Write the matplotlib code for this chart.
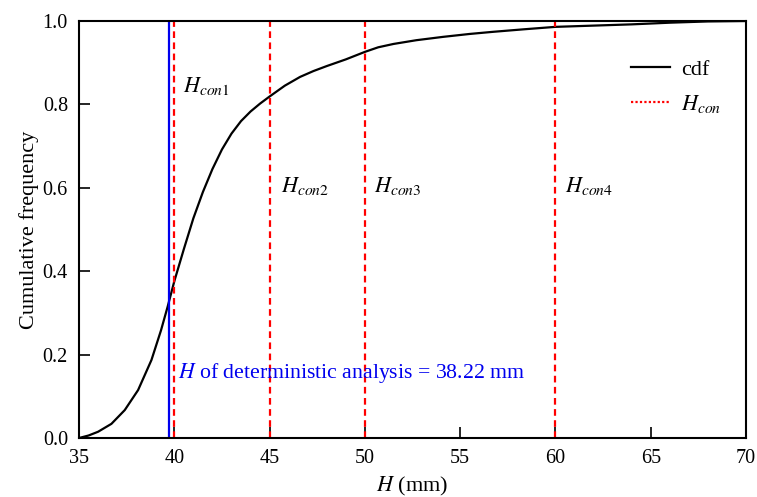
import numpy as np
import matplotlib
matplotlib.use("Agg")
import matplotlib.pyplot as plt
from matplotlib.lines import Line2D

plt.rcParams['font.family'] = 'Liberation Serif'
plt.rcParams['mathtext.fontset'] = 'stix'

# cdf
h_vals = [35.0, 35.5, 36.0, 36.7, 37.4, 38.1, 38.8, 39.3, 39.65, 40.0, 40.5,
          41.0, 41.5, 42.0, 42.5, 43.0, 43.5, 44.0, 44.5, 45.0, 45.8, 46.6,
          47.3, 48.0, 49.0, 50.0, 50.7, 51.5, 52.7, 54.1, 55.5, 56.7, 58.3,
          60.0, 62.0, 64.0, 66.0, 68.0, 70.0]
cdf_vals = [0.0, 0.006, 0.015, 0.034, 0.067, 0.115, 0.187, 0.258, 0.315, 0.376, 0.453,
            0.527, 0.59, 0.645, 0.692, 0.73, 0.76, 0.783, 0.802, 0.819, 0.845, 0.866,
            0.88, 0.892, 0.908, 0.926, 0.937, 0.945, 0.954, 0.962, 0.969, 0.974, 0.98,
            0.986, 0.989, 0.992, 0.996, 0.999, 1.0]

h_det = 39.7
h_con = [40, 45, 50, 60]
con_labels = [r'$H_{con\mathrm{1}}$', r'$H_{con\mathrm{2}}$',
              r'$H_{con\mathrm{3}}$', r'$H_{con\mathrm{4}}$']
label_pos = [(40.45, 0.845), (45.6, 0.605), (50.5, 0.605), (60.5, 0.605)]

fig = plt.figure(figsize=(7.57, 4.97), dpi=100)
ax = fig.add_axes([0.1044, 0.1187, 0.8811, 0.839])

ax.plot(h_vals, cdf_vals, color='k', lw=1.6)
ax.axvline(h_det, color='#0000ee', lw=1.6)
for h in h_con:
    ax.axvline(h, color='#ff0000', lw=1.6, ls=(0, (3, 2)))
for lab, (x, y) in zip(con_labels, label_pos):
    ax.text(x, y, lab, fontsize=16, va='center')

ax.text(40.2, 0.156, r'$H$ of deterministic analysis = 38.22 mm',
        color='#0000ee', fontsize=15.7, va='center')

handles = [Line2D([], [], color='k', lw=1.6),
           Line2D([], [], color='#ff0000', lw=1.6, ls=(0, (1, 1)))]
ax.legend(handles, ['cdf', r'$H_{con}$'], loc='upper right',
          bbox_to_anchor=(0.976, 0.93), frameon=False, fontsize=16,
          handlelength=1.75, handletextpad=0.5, labelspacing=0.6,
          borderaxespad=0)

ax.set_xlim(35, 70)
ax.set_ylim(0, 1.0)
ax.set_xticks(np.arange(35, 71, 5))
ax.set_yticks(np.arange(0, 1.01, 0.2))
ax.yaxis.set_major_formatter(matplotlib.ticker.FormatStrFormatter('%.1f'))
ax.tick_params(direction='in', length=8, width=1.2, labelsize=14.5, pad=8)
for s in ax.spines.values():
    s.set_linewidth(1.5)

ax.set_xlabel(r'$H$ (mm)', fontsize=16, labelpad=5)
ax.set_ylabel('Cumulative frequency', fontsize=16, labelpad=3)

fig.savefig('out.png', dpi=100)
